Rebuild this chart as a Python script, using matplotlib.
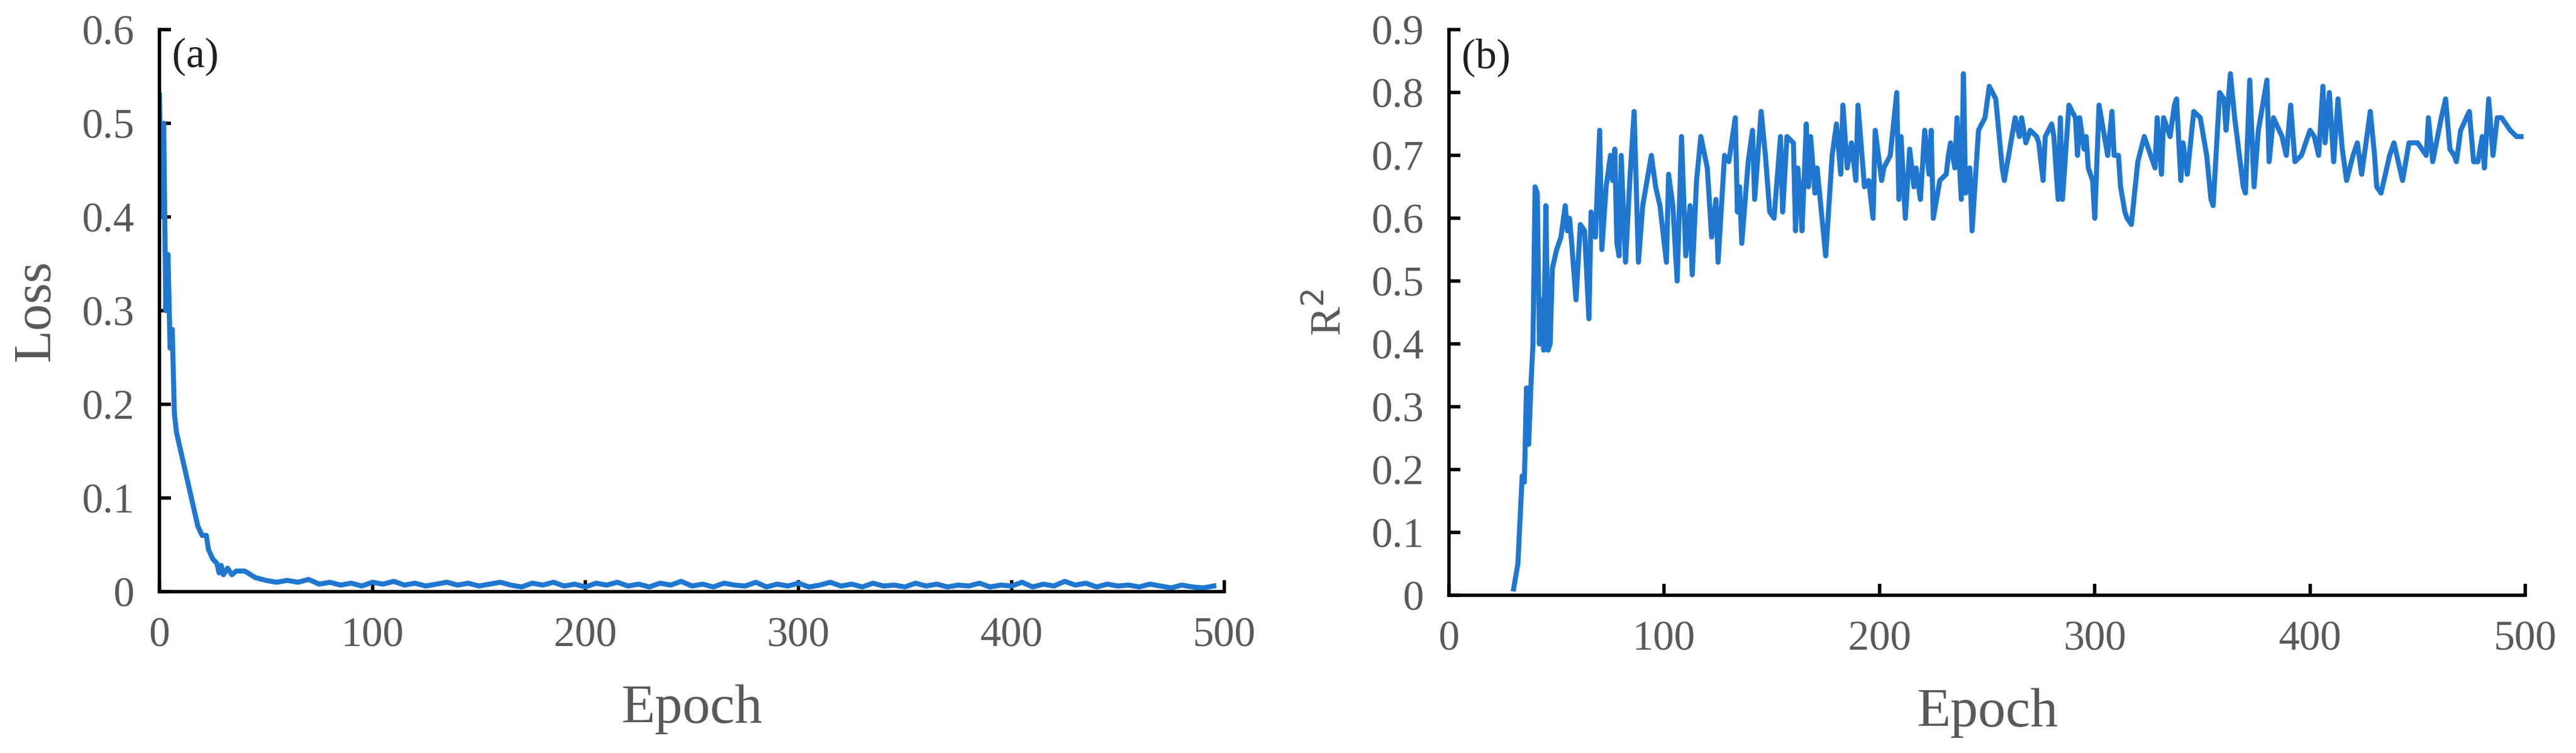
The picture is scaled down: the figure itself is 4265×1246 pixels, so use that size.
import numpy as np
import matplotlib.pyplot as plt

# (a) training loss
loss_epoch_head = [0, 1, 2, 3, 4, 5, 6, 7, 8, 10, 12, 14, 16, 18, 20, 22, 23, 25, 27, 28,
                   29, 30, 32, 34, 36]
loss_head = [0.53, 0.40, 0.50, 0.30, 0.36, 0.26, 0.28, 0.19, 0.17, 0.15, 0.13, 0.11, 0.09,
             0.07, 0.06, 0.06, 0.045, 0.035, 0.03, 0.02, 0.028, 0.018, 0.025, 0.018, 0.022]
loss_tail = [0.022, 0.015, 0.012, 0.010, 0.012, 0.010, 0.013, 0.008, 0.010, 0.007, 0.009,
             0.006, 0.010, 0.008, 0.011, 0.007, 0.009, 0.006, 0.008, 0.010, 0.007, 0.009,
             0.006, 0.008, 0.010, 0.007, 0.005, 0.009, 0.007, 0.010, 0.006, 0.008, 0.005,
             0.009, 0.007, 0.010, 0.006, 0.008, 0.005, 0.009, 0.007, 0.011, 0.006, 0.008,
             0.005, 0.009, 0.007, 0.006, 0.010, 0.005, 0.008, 0.006, 0.009, 0.005, 0.007,
             0.010, 0.006, 0.008, 0.005, 0.009, 0.006, 0.007, 0.005, 0.009, 0.006, 0.008,
             0.005, 0.007, 0.006, 0.009, 0.005, 0.007, 0.006, 0.010, 0.005, 0.008, 0.006,
             0.011, 0.007, 0.009, 0.005, 0.008, 0.006, 0.007, 0.005, 0.008, 0.006, 0.004,
             0.007, 0.005, 0.004, 0.006, 0.003]

# (b) R2
r2_epoch = [30, 32, 34, 35, 36, 37, 38, 39, 40, 41, 42, 43, 44, 45, 46, 47, 48, 50, 52, 54,
            55, 56, 57, 59, 61, 63, 65, 66, 68, 70, 71, 73, 75, 76, 77, 78, 79, 80, 82, 84,
            86, 88, 90, 92, 94, 96, 98, 101, 102, 104, 106, 108, 110, 112, 113, 115, 117,
            120, 122, 124, 125, 128, 130, 133, 134, 135, 136, 139, 141, 142, 145, 147, 149,
            151, 154, 155, 157, 160, 161, 162, 163, 164, 166, 167, 168, 170, 171, 175, 178,
            180, 182, 183, 185, 187, 189, 190, 193, 195, 197, 198, 201, 202, 205, 208, 209,
            210, 212, 214, 216, 217, 219, 221, 223, 224, 225, 228, 231, 232, 233, 235, 236,
            238, 239, 240, 242, 243, 246, 249, 251, 254, 257, 258, 261, 263, 265, 266, 268,
            270, 273, 274, 276, 277, 280, 281, 283, 284, 285, 288, 291, 292, 293, 295, 296,
            297, 299, 300, 302, 305, 306, 308, 309, 311, 312, 314, 315, 317, 320, 323, 326,
            328, 329, 331, 332, 335, 337, 338, 340, 341, 343, 346, 349, 352, 354, 355, 358,
            360, 361, 363, 365, 369, 370, 372, 374, 376, 380, 381, 383, 387, 389, 391, 393,
            396, 400, 402, 404, 406, 407, 409, 411, 413, 415, 417, 420, 422, 424, 428, 430,
            431, 433, 437, 439, 443, 446, 450, 454, 455, 457, 461, 463, 465, 467, 468, 470,
            474, 476, 478, 480, 481, 483, 485, 487, 489, 493, 496, 498]
r2 = [0.01, 0.05, 0.19, 0.18, 0.33, 0.24, 0.33, 0.40, 0.65, 0.64, 0.40, 0.47, 0.39, 0.62,
      0.39, 0.40, 0.52, 0.55, 0.57, 0.62, 0.58, 0.60, 0.56, 0.47, 0.59, 0.58, 0.44, 0.61,
      0.57, 0.74, 0.55, 0.65, 0.70, 0.66, 0.71, 0.56, 0.54, 0.70, 0.53, 0.66, 0.77, 0.53,
      0.62, 0.66, 0.70, 0.65, 0.62, 0.53, 0.67, 0.62, 0.50, 0.73, 0.54, 0.62, 0.51, 0.66,
      0.73, 0.68, 0.57, 0.63, 0.53, 0.70, 0.69, 0.76, 0.61, 0.65, 0.56, 0.69, 0.74, 0.63,
      0.77, 0.70, 0.61, 0.60, 0.73, 0.61, 0.73, 0.72, 0.58, 0.68, 0.64, 0.58, 0.75, 0.65,
      0.73, 0.64, 0.68, 0.54, 0.70, 0.75, 0.67, 0.78, 0.68, 0.72, 0.66, 0.78, 0.65, 0.66,
      0.60, 0.74, 0.66, 0.68, 0.70, 0.80, 0.63, 0.73, 0.60, 0.71, 0.65, 0.68, 0.63, 0.74,
      0.67, 0.74, 0.60, 0.66, 0.67, 0.70, 0.72, 0.68, 0.76, 0.63, 0.83, 0.64, 0.68, 0.58,
      0.74, 0.76, 0.81, 0.79, 0.68, 0.66, 0.72, 0.76, 0.73, 0.76, 0.72, 0.74, 0.73, 0.72,
      0.66, 0.73, 0.75, 0.73, 0.63, 0.76, 0.63, 0.78, 0.76, 0.70, 0.76, 0.71, 0.73, 0.68,
      0.66, 0.60, 0.78, 0.72, 0.70, 0.77, 0.70, 0.70, 0.65, 0.61, 0.60, 0.59, 0.69, 0.73,
      0.70, 0.68, 0.76, 0.67, 0.76, 0.73, 0.78, 0.79, 0.66, 0.72, 0.67, 0.77, 0.76, 0.70,
      0.63, 0.62, 0.80, 0.79, 0.74, 0.83, 0.76, 0.65, 0.64, 0.82, 0.65, 0.74, 0.82, 0.69,
      0.76, 0.73, 0.70, 0.78, 0.69, 0.70, 0.74, 0.73, 0.70, 0.81, 0.72, 0.80, 0.69, 0.79,
      0.71, 0.66, 0.70, 0.72, 0.67, 0.77, 0.70, 0.65, 0.64, 0.70, 0.72, 0.66, 0.72, 0.72,
      0.70, 0.76, 0.69, 0.76, 0.79, 0.71, 0.70, 0.69, 0.74, 0.77, 0.69, 0.69, 0.73, 0.68,
      0.79, 0.70, 0.76, 0.76, 0.74, 0.73, 0.73]

loss_epoch = loss_epoch_head + list(np.arange(40, 500, 5))
loss = loss_head + loss_tail[:len(loss_epoch) - len(loss_epoch_head)]

plt.rcParams['font.family'] = ['Liberation Serif', 'DejaVu Serif']
line_color = '#1f77d0'
tick_color = '#595959'

fig = plt.figure(figsize=(42.65, 12.46), dpi=100)
ax1 = fig.add_axes([0.0619, 0.2143, 0.4134, 0.7464])
ax2 = fig.add_axes([0.5625, 0.2095, 0.4178, 0.7510])

ax1.plot(loss_epoch, loss, color=line_color, linewidth=6)
ax1.set_xlim(0, 500)
ax1.set_ylim(0, 0.6)
ax1.set_yticks(np.arange(0, 0.61, 0.1))
ax1.set_yticklabels(['0', '0.1', '0.2', '0.3', '0.4', '0.5', '0.6'])
ax1.set_ylabel('Loss', fontsize=64, color=tick_color, labelpad=25)
ax1.text(0.012, 0.985, '(a)', transform=ax1.transAxes, fontsize=50, va='top', color='#231f20')

ax2.plot(r2_epoch, r2, color=line_color, linewidth=6)
ax2.set_xlim(0, 500)
ax2.set_ylim(0, 0.9)
ax2.set_yticks(np.arange(0, 0.91, 0.1))
ax2.set_yticklabels(['0', '0.1', '0.2', '0.3', '0.4', '0.5', '0.6', '0.7', '0.8', '0.9'])
ax2.set_ylabel('R$^2$', fontsize=52, color=tick_color, labelpad=25)
ax2.text(0.012, 0.985, '(b)', transform=ax2.transAxes, fontsize=50, va='top', color='#231f20')

for ax in (ax1, ax2):
    ax.set_xticks(np.arange(0, 501, 100))
    ax.set_xlabel('Epoch', fontsize=66, color=tick_color, labelpad=35)
    ax.spines['top'].set_visible(False)
    ax.spines['right'].set_visible(False)
    ax.spines['left'].set_linewidth(4)
    ax.spines['bottom'].set_linewidth(4)
    ax.tick_params(direction='in', length=14, width=4, labelsize=50,
                   labelcolor=tick_color, pad=30)

fig.savefig('out.png', dpi=100)
